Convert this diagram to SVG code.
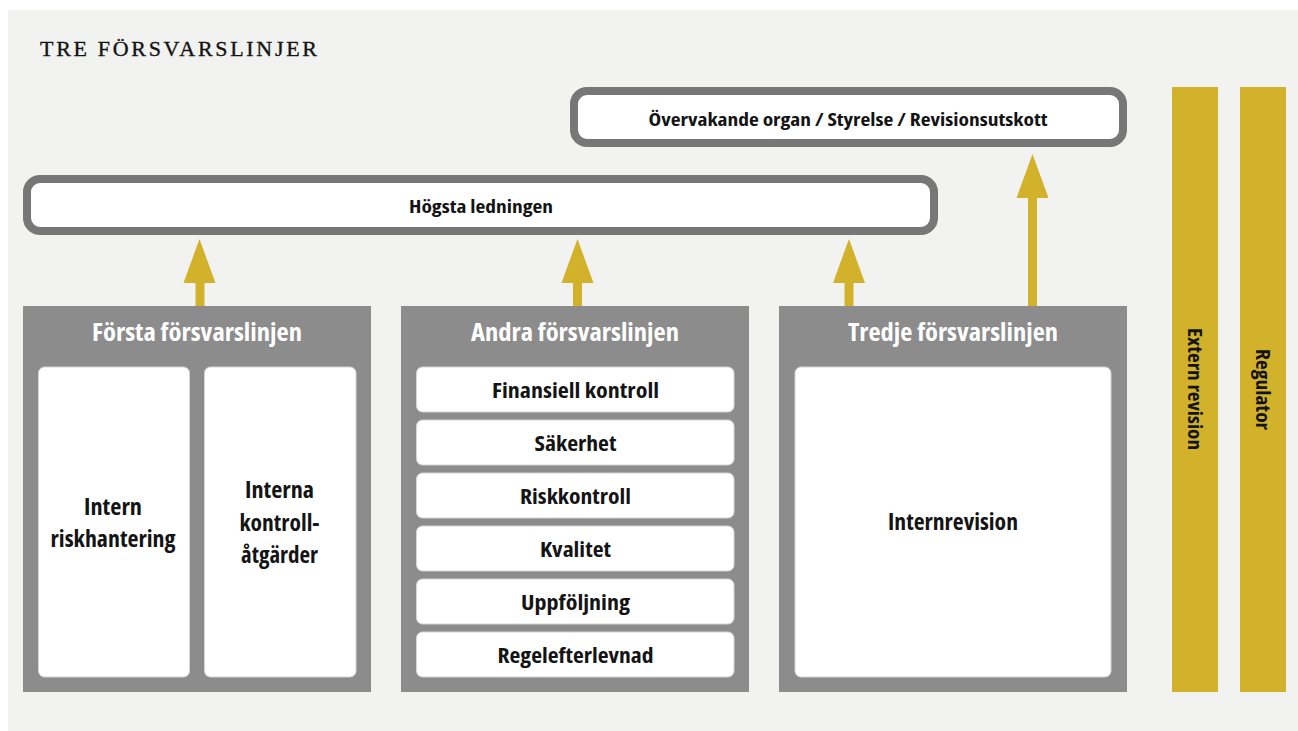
<svg xmlns="http://www.w3.org/2000/svg" width="1298" height="731" viewBox="0 0 1298 731">
<style>
.t{font-family:"Open Sans","Liberation Sans",sans-serif;font-weight:700;font-stretch:75%;fill:#141414;text-anchor:middle;}
.pt{font-size:24px;fill:#ffffff;}
.it{font-size:20.5px;}
.ct{font-size:22.5px;}
.bt{font-size:18px;}
.vt{font-size:19px;}
.frame{fill:#ffffff;stroke:#777777;stroke-width:8;}
.panel{fill:#8c8c8c;}
.wbox{fill:#ffffff;stroke:#d4d4d4;stroke-width:1;}
.gold{fill:#d2b22a;}
</style>
<rect x="0" y="0" width="1298" height="731" fill="#ffffff"/>
<rect x="8" y="10" width="1290" height="721" fill="#f2f2f0"/>
<text x="40" y="56" font-family="'Liberation Serif',serif" font-size="22" fill="#141414" stroke="#141414" stroke-width="0.35" textLength="277" lengthAdjust="spacing">TRE FÖRSVARSLINJER</text>

<g id="overvakande">
<rect class="frame" x="574" y="91" width="549" height="52" rx="13"/>
<text class="t bt" x="848" y="126" textLength="399" lengthAdjust="spacingAndGlyphs">Övervakande organ / Styrelse / Revisionsutskott</text>
</g>
<g id="hogsta">
<rect class="frame" x="27" y="179" width="907" height="52" rx="13"/>
<text class="t bt" x="481" y="213" textLength="144" lengthAdjust="spacingAndGlyphs">Högsta ledningen</text>
</g>

<g id="connectors" class="gold">
<rect x="195.5" y="281" width="9" height="26"/>
<polygon points="199.5,239 183.5,283 215.5,283"/>
<rect x="573" y="281" width="9" height="26"/>
<polygon points="577.5,239 561.5,283 593.5,283"/>
<rect x="844.5" y="281" width="9" height="26"/>
<polygon points="849,239 833,283 865,283"/>
<rect x="1028" y="196" width="9" height="111"/>
<polygon points="1032.5,154 1016.5,198 1048.5,198"/>
</g>

<g id="forsta">
<rect class="panel" x="23" y="306" width="348" height="386"/>
<text class="t pt" x="197" y="341" textLength="210" lengthAdjust="spacingAndGlyphs">Första försvarslinjen</text>
<g id="intern-riskhantering">
<rect class="wbox" x="38.5" y="367" width="151" height="310" rx="6"/>
<text class="t ct" x="113" y="515" textLength="58" lengthAdjust="spacingAndGlyphs">Intern</text>
<text class="t ct" x="113" y="547" textLength="125" lengthAdjust="spacingAndGlyphs">riskhantering</text>
</g>
<g id="interna-kontrollatgarder">
<rect class="wbox" x="204.5" y="367" width="151.5" height="310" rx="6"/>
<text class="t ct" x="279.5" y="498" textLength="69" lengthAdjust="spacingAndGlyphs">Interna</text>
<text class="t ct" x="279.5" y="530.5" textLength="80" lengthAdjust="spacingAndGlyphs">kontroll-</text>
<text class="t ct" x="279.5" y="562.5" textLength="77" lengthAdjust="spacingAndGlyphs">åtgärder</text>
</g>
</g>

<g id="andra">
<rect class="panel" x="401" y="306" width="348" height="386"/>
<text class="t pt" x="575" y="341" textLength="208" lengthAdjust="spacingAndGlyphs">Andra försvarslinjen</text>
<g id="finansiell"><rect class="wbox" x="416.5" y="367" width="317.5" height="45" rx="6"/>
<text class="t it" x="575.5" y="398" textLength="167" lengthAdjust="spacingAndGlyphs">Finansiell kontroll</text></g>
<g id="sakerhet"><rect class="wbox" x="416.5" y="420" width="317.5" height="45" rx="6"/>
<text class="t it" x="575.5" y="451" textLength="82" lengthAdjust="spacingAndGlyphs">Säkerhet</text></g>
<g id="riskkontroll"><rect class="wbox" x="416.5" y="473" width="317.5" height="45" rx="6"/>
<text class="t it" x="575.5" y="503.5" textLength="111" lengthAdjust="spacingAndGlyphs">Riskkontroll</text></g>
<g id="kvalitet"><rect class="wbox" x="416.5" y="526" width="317.5" height="45" rx="6"/>
<text class="t it" x="575.5" y="556.5" textLength="71" lengthAdjust="spacingAndGlyphs">Kvalitet</text></g>
<g id="uppfoljning"><rect class="wbox" x="416.5" y="579" width="317.5" height="45" rx="6"/>
<text class="t it" x="575.5" y="609.5" textLength="109" lengthAdjust="spacingAndGlyphs">Uppföljning</text></g>
<g id="regelefterlevnad"><rect class="wbox" x="416.5" y="632" width="317.5" height="45" rx="6"/>
<text class="t it" x="575.5" y="662.5" textLength="156" lengthAdjust="spacingAndGlyphs">Regelefterlevnad</text></g>
</g>

<g id="tredje">
<rect class="panel" x="779" y="306" width="348" height="386"/>
<text class="t pt" x="953" y="341" textLength="210" lengthAdjust="spacingAndGlyphs">Tredje försvarslinjen</text>
<g id="internrevision">
<rect class="wbox" x="795" y="367" width="316" height="310" rx="6"/>
<text class="t ct" x="953" y="530" textLength="130" lengthAdjust="spacingAndGlyphs">Internrevision</text>
</g>
</g>

<g id="extern-revision">
<rect class="gold" x="1172" y="87" width="46" height="605"/>
<text class="t vt" transform="translate(1187.5,389) rotate(90)" x="0" y="0" textLength="122" lengthAdjust="spacingAndGlyphs">Extern revision</text>
</g>
<g id="regulator">
<rect class="gold" x="1240" y="87" width="46" height="605"/>
<text class="t vt" transform="translate(1255.5,389.5) rotate(90)" x="0" y="0" textLength="81" lengthAdjust="spacingAndGlyphs">Regulator</text>
</g>
</svg>
